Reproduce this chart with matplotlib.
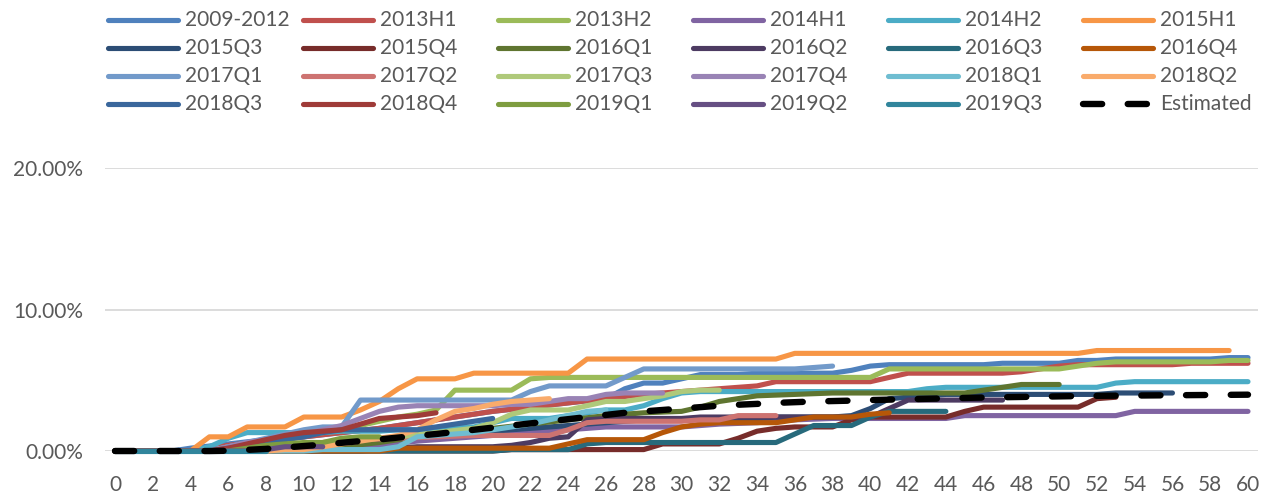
import matplotlib
matplotlib.use("Agg")
import matplotlib.pyplot as plt
from matplotlib.lines import Line2D
from matplotlib.ticker import PercentFormatter

plt.rcParams['font.family'] = ['Lato', 'DejaVu Sans']

# cumulative rate (%) by month on book, one list per cohort
names = ['2009-2012', '2013H1', '2013H2', '2014H1', '2014H2', '2015H1',
         '2015Q3', '2015Q4', '2016Q1', '2016Q2', '2016Q3', '2016Q4',
         '2017Q1', '2017Q2', '2017Q3', '2017Q4', '2018Q1', '2018Q2',
         '2018Q3', '2018Q4', '2019Q1', '2019Q2', '2019Q3']

colors = ['#4F81BD', '#C0504D', '#9BBB59', '#8064A2', '#4BACC6', '#F79646',
          '#2C4D75', '#772C2A', '#5F7530', '#4D3B62', '#276A7C', '#B65708',
          '#729ACA', '#CD7371', '#AFC97A', '#9983B5', '#6FBDD1', '#F9AB6B',
          '#3A679C', '#9F3B38', '#7E9D40', '#664F83', '#31859C']

c2009_2012 = [0, 0, 0, 0, 0.2, 0.35, 0.5, 0.65, 0.8, 0.9, 1.0, 1.15, 1.3, 1.45, 1.6, 1.8, 2.0, 2.2, 2.4, 2.6,
              2.8, 2.95, 3.1, 3.25, 3.4, 3.55, 3.7, 4.4, 4.8, 4.8, 5.1, 5.4, 5.4, 5.4, 5.5, 5.5, 5.5, 5.5, 5.5, 5.7,
              6.0, 6.1, 6.1, 6.1, 6.1, 6.1, 6.1, 6.2, 6.2, 6.2, 6.2, 6.4, 6.4, 6.5, 6.5, 6.5, 6.5, 6.5, 6.5, 6.6, 6.6]
c2013h1 = [0, 0, 0, 0, 0, 0.2, 0.4, 0.55, 0.7, 0.85, 1.0, 1.15, 1.3, 1.45, 1.6, 1.8, 2.0, 2.2, 2.4, 2.6,
           2.8, 2.95, 3.1, 3.25, 3.4, 3.55, 3.7, 3.85, 4.0, 4.1, 4.2, 4.3, 4.4, 4.5, 4.6, 4.9, 4.9, 4.9, 4.9, 4.9,
           4.9, 5.2, 5.5, 5.5, 5.5, 5.5, 5.5, 5.5, 5.6, 5.8, 6.0, 6.1, 6.1, 6.1, 6.1, 6.1, 6.1, 6.2, 6.2, 6.2, 6.2]
c2013h2 = [0, 0, 0, 0, 0, 0, 0.3, 0.5, 0.7, 0.9, 1.1, 1.3, 1.5, 1.8, 2.1, 2.4, 2.6, 2.9, 4.3, 4.3,
           4.3, 4.3, 5.1, 5.2, 5.2, 5.2, 5.2, 5.2, 5.2, 5.2, 5.2, 5.2, 5.2, 5.2, 5.2, 5.2, 5.2, 5.2, 5.2, 5.2,
           5.2, 5.8, 5.8, 5.8, 5.8, 5.8, 5.8, 5.8, 5.8, 5.8, 5.8, 6.0, 6.2, 6.3, 6.3, 6.3, 6.3, 6.3, 6.3, 6.4, 6.4]
c2014h1 = [0, 0, 0, 0, 0, 0, 0, 0, 0, 0.2, 0.2, 0.2, 0.2, 0.3, 0.4, 0.55, 0.7, 0.8, 0.9, 1.0,
           1.1, 1.2, 1.3, 1.4, 1.5, 1.6, 1.7, 1.7, 1.7, 1.7, 1.7, 1.8, 1.9, 1.95, 2.0, 2.1, 2.2, 2.25, 2.3, 2.3,
           2.3, 2.3, 2.3, 2.3, 2.3, 2.5, 2.5, 2.5, 2.5, 2.5, 2.5, 2.5, 2.5, 2.5, 2.8, 2.8, 2.8, 2.8, 2.8, 2.8, 2.8]
c2014h2 = [0, 0, 0, 0, 0, 0.3, 0.9, 1.3, 1.3, 1.3, 1.3, 1.3, 1.4, 1.4, 1.4, 1.5, 1.5, 1.5, 1.7, 1.7,
           2.0, 2.3, 2.3, 2.3, 2.5, 2.7, 2.9, 2.9, 3.2, 3.7, 4.1, 4.2, 4.2, 4.2, 4.2, 4.2, 4.2, 4.2, 4.2, 4.2,
           4.2, 4.2, 4.2, 4.4, 4.5, 4.5, 4.5, 4.5, 4.5, 4.5, 4.5, 4.5, 4.5, 4.8, 4.9, 4.9, 4.9, 4.9, 4.9, 4.9, 4.9]
c2015h1 = [0, 0, 0, 0, 0, 1.0, 1.0, 1.7, 1.7, 1.7, 2.4, 2.4, 2.4, 2.9, 3.5, 4.4, 5.1, 5.1, 5.1, 5.5,
           5.5, 5.5, 5.5, 5.5, 5.5, 6.5, 6.5, 6.5, 6.5, 6.5, 6.5, 6.5, 6.5, 6.5, 6.5, 6.5, 6.9, 6.9, 6.9, 6.9,
           6.9, 6.9, 6.9, 6.9, 6.9, 6.9, 6.9, 6.9, 6.9, 6.9, 6.9, 6.9, 7.1, 7.1, 7.1, 7.1, 7.1, 7.1, 7.1, 7.1]
c2015q3 = [0, 0, 0, 0, 0, 0, 0, 0.1, 0.2, 0.3, 0.4, 0.5, 0.6, 0.7, 0.8, 0.9, 1.0, 1.1, 1.2, 1.3,
           1.4, 1.5, 1.6, 1.7, 1.8, 1.9, 2.0, 2.1, 2.2, 2.2, 2.2, 2.3, 2.3, 2.3, 2.3, 2.4, 2.4, 2.4, 2.4, 2.5,
           3.0, 3.7, 3.8, 3.9, 4.0, 4.0, 4.0, 4.0, 4.0, 4.0, 4.0, 4.0, 4.0, 4.1, 4.1, 4.1, 4.1]
c2015q4 = [0, 0, 0, 0, 0, 0, 0, 0, 0, 0, 0, 0, 0, 0, 0, 0, 0, 0, 0, 0,
           0, 0.1, 0.1, 0.1, 0.1, 0.1, 0.1, 0.1, 0.1, 0.5, 0.5, 0.5, 0.5, 0.9, 1.4, 1.6, 1.7, 1.7, 1.7, 2.2,
           2.4, 2.4, 2.4, 2.4, 2.4, 2.8, 3.1, 3.1, 3.1, 3.1, 3.1, 3.1, 3.7, 3.8]
c2016q1 = [0, 0, 0, 0, 0, 0, 0, 0, 0, 0, 0, 0.15, 0.3, 0.45, 0.6, 0.8, 1.0, 1.15, 1.3, 1.45,
           1.6, 1.75, 1.9, 2.05, 2.2, 2.35, 2.5, 2.6, 2.7, 2.75, 2.8, 3.1, 3.5, 3.7, 3.9, 3.95, 4.0, 4.05, 4.1, 4.1,
           4.1, 4.1, 4.1, 4.1, 4.1, 4.1, 4.3, 4.5, 4.7, 4.7, 4.7]
c2016q2 = [0, 0, 0, 0, 0, 0, 0, 0, 0, 0, 0, 0, 0, 0, 0.1, 0.2, 0.3, 0.3, 0.3, 0.3,
           0.3, 0.4, 0.6, 0.9, 1.0, 2.2, 2.3, 2.3, 2.3, 2.3, 2.3, 2.4, 2.4, 2.4, 2.4, 2.4, 2.4, 2.4, 2.4, 2.4,
           2.4, 3.0, 3.6, 3.6, 3.6, 3.6, 3.6, 3.6]
c2016q3 = [0, 0, 0, 0, 0, 0, 0, 0, 0, 0, 0, 0, 0, 0, 0, 0, 0, 0, 0, 0,
           0, 0.1, 0.1, 0.1, 0.1, 0.5, 0.6, 0.6, 0.6, 0.6, 0.6, 0.6, 0.6, 0.6, 0.6, 0.6, 1.2, 1.8, 1.8, 1.8,
           2.4, 2.8, 2.8, 2.8, 2.8]
c2016q4 = [0, 0, 0, 0, 0, 0, 0, 0, 0, 0, 0, 0, 0, 0, 0, 0.2, 0.2, 0.2, 0.2, 0.2,
           0.2, 0.2, 0.2, 0.2, 0.5, 0.8, 0.8, 0.8, 0.8, 1.3, 1.7, 1.9, 2.0, 2.0, 2.0, 2.0, 2.2, 2.4, 2.4, 2.4,
           2.6, 2.7]
c2017q1 = [0, 0, 0, 0, 0, 0, 0.3, 0.6, 0.9, 1.2, 1.5, 1.7, 1.7, 3.6, 3.6, 3.6, 3.6, 3.6, 3.6, 3.6,
           3.6, 3.6, 4.2, 4.6, 4.6, 4.6, 4.6, 5.2, 5.8, 5.8, 5.8, 5.8, 5.8, 5.8, 5.8, 5.8, 5.8, 5.9, 6.0]
c2017q2 = [0, 0, 0, 0, 0, 0, 0, 0.2, 0.3, 0.4, 0.5, 0.6, 0.7, 0.8, 0.85, 0.9, 0.95, 1.0, 1.05, 1.1,
           1.1, 1.1, 1.1, 1.1, 1.5, 2.0, 2.1, 2.1, 2.1, 2.1, 2.1, 2.2, 2.2, 2.5, 2.5, 2.5]
c2017q3 = [0, 0, 0, 0, 0, 0, 0.1, 0.2, 0.3, 0.4, 0.5, 0.6, 0.7, 0.8, 0.9, 1.0, 1.15, 1.3, 1.45, 1.6,
           2.0, 2.6, 2.9, 2.9, 2.9, 3.2, 3.5, 3.5, 3.7, 3.9, 4.2, 4.3, 4.3]
c2017q4 = [0, 0, 0, 0, 0, 0, 0.3, 0.6, 0.8, 1.0, 1.2, 1.5, 1.8, 2.3, 2.8, 3.1, 3.2, 3.2, 3.2, 3.2,
           3.2, 3.3, 3.3, 3.5, 3.7, 3.7, 4.0, 4.1, 4.1, 4.1]
c2018q1 = [0, 0, 0, 0, 0, 0, 0, 0, 0, 0, 0, 0.1, 0.1, 0.1, 0.1, 0.3, 1.0, 1.1, 1.2, 1.3,
           1.5, 1.7, 1.9, 2.2, 2.5, 2.8, 2.9]
c2018q2 = [0, 0, 0, 0, 0, 0, 0, 0, 0, 0.1, 0.1, 0.3, 0.5, 0.7, 0.9, 1.1, 1.5, 2.2, 2.8, 3.0,
           3.3, 3.5, 3.6, 3.7]
c2018q3 = [0, 0, 0, 0, 0, 0, 0.2, 0.4, 0.6, 0.8, 1.0, 1.3, 1.5, 1.5, 1.5, 1.5, 1.5, 1.7, 1.9, 2.1,
           2.3]
c2018q4 = [0, 0, 0, 0, 0, 0, 0.2, 0.5, 0.8, 1.1, 1.3, 1.4, 1.5, 1.9, 2.3, 2.4, 2.5, 2.7]
c2019q1 = [0, 0, 0, 0, 0, 0, 0, 0.2, 0.4, 0.5, 0.6, 0.6, 0.9, 1.0, 1.0]
c2019q2 = [0, 0, 0, 0, 0, 0, 0, 0, 0.1, 0.3, 0.3, 0.3]
c2019q3 = [0, 0, 0, 0, 0, 0, 0, 0, 0]

estimated = [0, 0, 0, 0, 0, 0, 0.02, 0.08, 0.15, 0.25, 0.35, 0.45, 0.58, 0.7, 0.82, 0.95, 1.08, 1.2, 1.35, 1.5,
             1.65, 1.8, 1.95, 2.1, 2.25, 2.4, 2.55, 2.7, 2.8, 2.9, 3.0, 3.1, 3.2, 3.27, 3.33, 3.4, 3.45, 3.5, 3.53, 3.56,
             3.6, 3.63, 3.66, 3.69, 3.72, 3.75, 3.78, 3.8, 3.82, 3.84, 3.86, 3.88, 3.9, 3.91, 3.92, 3.93, 3.94, 3.95,
             3.96, 3.97, 3.98]

series = [c2009_2012, c2013h1, c2013h2, c2014h1, c2014h2, c2015h1,
          c2015q3, c2015q4, c2016q1, c2016q2, c2016q3, c2016q4,
          c2017q1, c2017q2, c2017q3, c2017q4, c2018q1, c2018q2,
          c2018q3, c2018q4, c2019q1, c2019q2, c2019q3]

W, H = 1271, 497
fig = plt.figure(figsize=(W / 100, H / 100), dpi=100)
ax = fig.add_axes([105 / W, 1 - 451 / H, (1258 - 105) / W, (451 - 168) / H])

grey = '#595959'
lw = 3.7
est_kw = dict(color='black', lw=4.6, dashes=(3.0, 4.0), dash_capstyle='round')
for vals, col in zip(series, colors):
    ax.plot(range(len(vals)), vals, color=col, lw=lw, solid_capstyle='round',
            solid_joinstyle='round', clip_on=False)
ax.plot(range(len(estimated)), estimated, clip_on=False, **est_kw)

ax.set_xlim(-0.53, 60.53)
ax.set_ylim(0, 20)
ax.set_xticks(range(0, 61, 2))
ax.set_yticks([0, 10, 20])
ax.yaxis.set_major_formatter(PercentFormatter(100, decimals=2))
ax.grid(axis='y', color='#D9D9D9', lw=1.3, zorder=0)
ax.set_axisbelow(True)
for s in ax.spines.values():
    s.set_visible(False)
ax.tick_params(axis='both', length=0, labelsize=15, labelcolor=grey)
ax.tick_params(axis='x', pad=17)
ax.tick_params(axis='y', pad=16)

# legend, Excel style: 6 equal columns, row-major
labels = names + ['Estimated']
for i, name in enumerate(labels):
    c, r = i % 6, i // 6
    x0 = 108 + 195 * c
    y = 1 - (20 + 28 * r) / H
    xs = [x0 / W, (x0 + 70) / W]
    if name == 'Estimated':
        ln = Line2D(xs, [y, y], transform=fig.transFigure, **est_kw)
    else:
        ln = Line2D(xs, [y, y], transform=fig.transFigure, color=colors[i],
                    lw=lw, solid_capstyle='round')
    fig.add_artist(ln)
    fig.text((x0 + 77) / W, y, name, fontsize=15, color=grey, va='center', ha='left')

fig.savefig('out.png', dpi=100)
